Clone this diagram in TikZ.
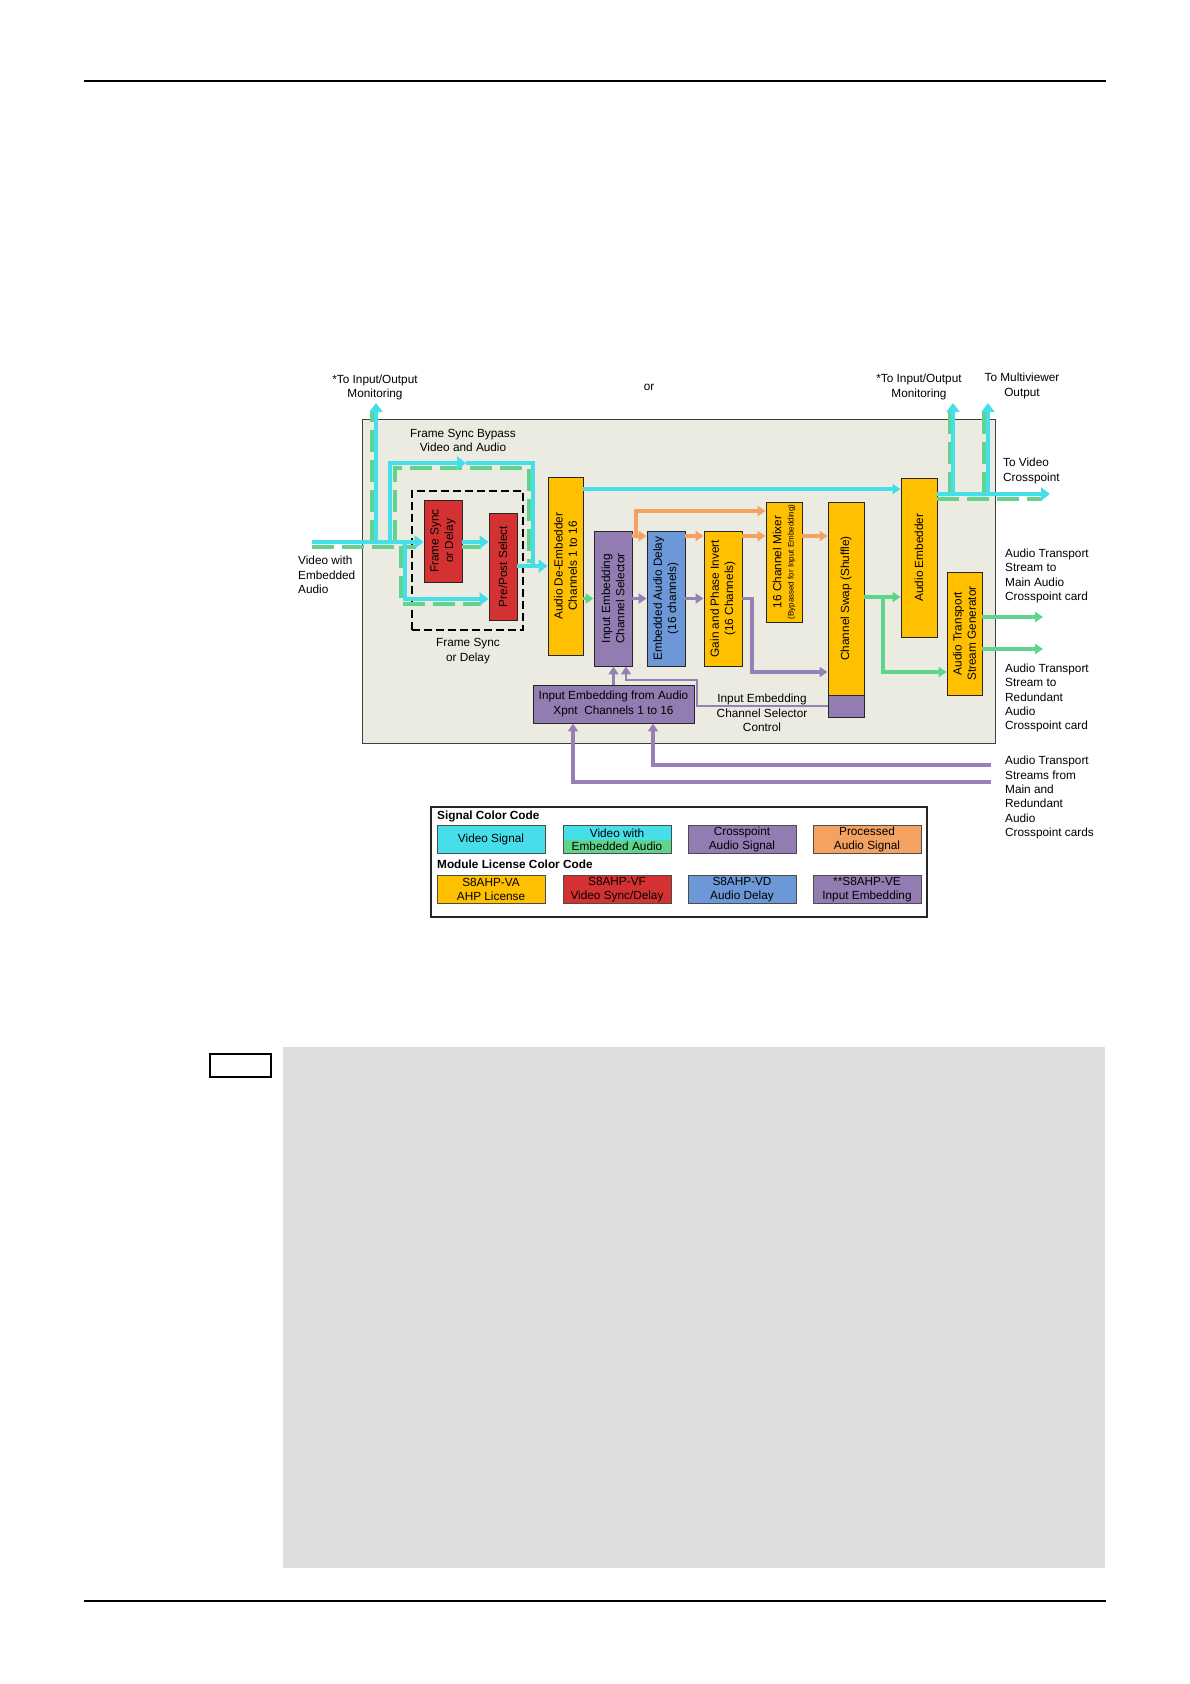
\documentclass[tikz,border=0pt]{standalone}
\usepackage{fontspec}
\setmainfont{Liberation Sans}
\usetikzlibrary{arrows.meta,calc}
\definecolor{cy}{RGB}{70,222,232}
\definecolor{gr}{RGB}{95,212,140}
\definecolor{pu}{RGB}{146,124,178}
\definecolor{pl}{RGB}{150,128,182}
\definecolor{og}{RGB}{244,162,98}
\definecolor{ye}{RGB}{255,192,0}
\definecolor{rd}{RGB}{212,50,50}
\definecolor{bl}{RGB}{108,152,216}
\definecolor{bgc}{RGB}{235,235,226}
\definecolor{pgc}{RGB}{222,222,222}
\newcommand{\dfont}{\fontsize{11.8}{14.3}\selectfont}
\newcommand{\sfnt}{\fontsize{8}{9}\selectfont}
\begin{document}
\begin{tikzpicture}[x=1pt,y=-1pt,
  bx/.style={draw=black!85, line width=0.9pt, inner sep=0pt},
  rtxt/.style={rotate=90, align=center, font=\dfont, inner sep=0pt},
  txt/.style={align=center, font=\dfont, inner sep=0pt},
  ltxt/.style={align=left, font=\dfont, inner sep=0pt, anchor=west},
  vid/.style={draw=cy, line width=4.5pt, line join=miter},
  gdash/.style={draw=gr, line width=4pt, dash pattern=on 22pt off 8pt},
  vah/.style={-{Triangle[length=9pt,width=13pt]}},
  ahd/.style={-{Triangle[length=8pt,width=10pt]}},
  aline/.style={line width=3.2pt, line join=miter},
  lbox/.style={draw=black!70, line width=0.8pt, inner sep=0pt, minimum width=108pt, minimum height=28.5pt, align=center, font=\dfont}
]
\useasboundingbox (0,0) rectangle (1190,1684);

% page furniture
\draw[line width=1.2pt] (84,81) -- (1106,81);
\draw[line width=1.2pt] (84,1601) -- (1106,1601);
\fill[pgc] (283,1047) rectangle (1105,1568);
\node[draw, line width=1.4pt, fill=white, minimum width=61pt, minimum height=23pt, inner sep=0pt] (tag) at (240.5,1065.5) {};

% main box
\node[draw=black!75, fill=bgc, line width=1pt, minimum width=633pt, minimum height=324pt, inner sep=0pt] (main) at (678.5,581) {};

% dashed frame sync group
\node[draw, dash pattern=on 8pt off 4pt, line width=1.2pt, minimum width=111pt, minimum height=139pt, inner sep=0pt] (fsd) at (467.5,560.5) {};

% blocks
\node[bx, fill=rd, minimum width=38pt, minimum height=82pt] (FS) at (443,541) {};
\node[rtxt] (FSt) at (FS) {Frame Sync\\or Delay};
\node[bx, fill=rd, minimum width=28pt, minimum height=107pt] (PP) at (503,566.5) {};
\node[rtxt] (PPt) at (PP) {Pre/Post Select};
\node[bx, fill=ye, minimum width=35pt, minimum height=178pt] (DeEmb) at (565.5,566) {};
\node[rtxt] (DeEmbt) at (DeEmb) {Audio De-Embedder\\Channels 1 to 16};
\node[bx, fill=pu, minimum width=38pt, minimum height=135pt] (Sel) at (613,598.5) {};
\node[rtxt] (Selt) at (Sel) {Input Embedding\\Channel Selector};
\node[bx, fill=bl, minimum width=38pt, minimum height=135pt] (Delay) at (666,598.5) {};
\node[rtxt] (Delayt) at (Delay) {Embedded Audio Delay\\(16 channels)};
\node[bx, fill=ye, minimum width=38pt, minimum height=135pt] (Gain) at (723,598.5) {};
\node[rtxt] (Gaint) at (Gain) {Gain and Phase Invert\\(16 Channels)};
\node[bx, fill=ye, minimum width=36pt, minimum height=120pt] (Mix) at (784,562) {};
\node[rtxt] (Mixt) at (Mix) {16 Channel Mixer\\[-2pt]{\sfnt (Bypassed for Input Embedding)}};
\node[bx, fill=ye, minimum width=36pt, minimum height=193pt] (Swap) at (846,598.5) {};
\node[rtxt] (Swapt) at (Swap) {Channel Swap (Shuffle)};
\node[bx, fill=pu, minimum width=36pt, minimum height=22pt] (SwapP) at (846,706) {};
\node[bx, fill=ye, minimum width=36pt, minimum height=159pt] (Emb) at (919,557.5) {};
\node[rtxt] (Embt) at (Emb) {Audio Embedder};
\node[bx, fill=ye, minimum width=35pt, minimum height=123pt] (ATSG) at (964.5,633.5) {};
\node[rtxt] (ATSGt) at (ATSG) {Audio Transport\\Stream Generator};
\node[bx, fill=pu, minimum width=161pt, minimum height=38pt, txt] (IEA) at (613.5,704) {Input Embedding from Audio\\Xpnt\ \ Channels 1 to 16};

% coordinates
\coordinate (vin) at (312,542);
\coordinate (monL) at (376,403);
\coordinate (byTL) at (390,463);
\coordinate (byTR) at (533,463);
\coordinate (byMid) at (466,463);
\coordinate (lowX) at (405,599);
\coordinate (monR1) at (953,403);
\coordinate (monR2) at (988,403);
\coordinate (vout) at (1050,494);
\coordinate (yV) at (0,489);
\coordinate (yO) at (0,536);
\coordinate (ob) at (636,511);
\coordinate (pc) at (752,672);
\coordinate (yG) at (0,597);
\coordinate (gb) at (883,672);
\coordinate (o1) at (1043,617);
\coordinate (o2) at (1043,649);
\coordinate (c1) at (697,680);
\coordinate (c2) at (626,680);
\coordinate (r1) at (991,765);
\coordinate (r2) at (991,782);
\coordinate (b1) at (653,765);
\coordinate (b2) at (573,782);

% green dashes of video with embedded audio (under cyan)
\draw[gdash] (312,546.5) -- (416,546.5);
\draw[gdash] (371.5,542) -- (371.5,411);
\draw[gdash] (394.5,542) -- (394.5,467.5) -- (528.5,467.5) -- (528.5,563);
\draw[gdash] (400.5,546) -- (400.5,603.5) -- (481,603.5);
\draw[gdash] (462,546.5) -- (481,546.5);
\draw[gdash] (937,498.5) -- (1042,498.5);
\draw[gdash] (949.5,494) -- (949.5,411);
\draw[gdash] (984,494) -- (984,411);

% cyan video paths
\draw[vid,vah] (vin) -- (vin -| FS.west);
\draw[vid,vah] (vin -| monL) -- (monL);
\draw[vid,vah] (vin -| byTL) -- (byTL) -- (byMid);
\draw[vid,vah] (byMid) -- (byTR) -- (byTR |- DeEmb.west) -- (DeEmb.west);
\draw[vid,vah] (vin -| lowX) -- (lowX) -- (lowX -| PP.west);
\draw[vid,vah] (vin -| FS.east) -- (vin -| PP.west);
\draw[vid] (PP.east |- DeEmb.west) -- (byTR |- DeEmb.west);
\draw[vid,vah] (Emb.east |- vout) -- (vout);
\draw[vid,vah] (monR1 |- vout) -- (monR1);
\draw[vid,vah] (monR2 |- vout) -- (monR2);

% cyan video from de-embedder to embedder
\draw[aline,draw=cy,ahd] (DeEmb.east |- yV) -- (Emb.west |- yV);

% green audio
\draw[aline,draw=gr,ahd] (DeEmb.east |- Sel.west) -- (Sel.west);
\draw[aline,draw=gr,ahd] (Swap.east |- yG) -- (Emb.west |- yG);
\draw[aline,draw=gr,ahd] (gb |- yG) -- (gb) -- (gb -| ATSG.west);
\draw[aline,draw=gr,ahd] (ATSG.east |- o1) -- (o1);
\draw[aline,draw=gr,ahd] (ATSG.east |- o2) -- (o2);

% orange processed audio
\draw[aline,draw=og,ahd] (Sel.east |- yO) -- (Delay.west |- yO);
\draw[aline,draw=og,ahd] (ob |- yO) -- (ob) -- (ob -| Mix.west);
\draw[aline,draw=og,ahd] (Delay.east |- yO) -- (Gain.west |- yO);
\draw[aline,draw=og,ahd] (Gain.east |- yO) -- (Mix.west |- yO);
\draw[aline,draw=og,ahd] (Mix.east |- yO) -- (Swap.west |- yO);

% purple crosspoint audio
\draw[aline,draw=pl,ahd] (Sel.east) -- (Delay.west);
\draw[aline,draw=pl,ahd] (Delay.east) -- (Gain.west);
\draw[aline,draw=pl,ahd] (Gain.east) -- (Gain.east -| pc) -- (pc) -- (pc -| Swap.west);
\draw[aline,draw=pl,ahd] (IEA.north) -- (IEA.north |- Sel.south);
\draw[aline,draw=pl,line width=2.6pt,ahd] (SwapP.west) -- (SwapP.west -| c1) -- (c1) -- (c2) -- (c2 |- Sel.south);
\draw[aline,draw=pl,ahd] (r1) -- (b1) -- (b1 |- IEA.south);
\draw[aline,draw=pl,ahd] (r2) -- (b2) -- (b2 |- IEA.south);

% labels
\node[txt] (l1) at (375,387.5) {*To Input/Output\\Monitoring};
\node[txt] (l2) at (649,387) {or};
\node[txt] (l3) at (919,387) {*To Input/Output\\Monitoring};
\node[txt] (l4) at (1022,386) {To Multiviewer\\Output};
\node[txt] (l5) at (463,440.5) {Frame Sync Bypass\\Video and Audio};
\node[ltxt] (l6) at (1003,471) {To Video\\Crosspoint};
\node[ltxt] (l7) at (298,575) {Video with\\Embedded\\Audio};
\node[txt] (l8) at (468,651) {Frame Sync\\or Delay};
\node[txt] (l9) at (762,713) {Input Embedding\\Channel Selector\\Control};
\node[ltxt] (l10) at (1005,576) {Audio Transport\\Stream to\\Main Audio\\Crosspoint card};
\node[ltxt] (l11) at (1005,698) {Audio Transport\\Stream to\\Redundant\\Audio\\Crosspoint card};
\node[ltxt] (l12) at (1005,797.5) {Audio Transport\\Streams from\\Main and\\Redundant\\Audio\\Crosspoint cards};

% legend
\node[draw=black!85, line width=1.2pt, fill=white, minimum width=496pt, minimum height=110pt, inner sep=0pt] (leg) at (679,862) {};
\node[anchor=west, font=\bfseries\dfont, inner sep=0pt] (lh1) at (437,816) {Signal Color Code};
\node[lbox, fill=cy] (k1) at (491,839.5) {Video Signal};
\node[lbox, path picture={
  \fill[cy] (path picture bounding box.north west) rectangle (path picture bounding box.east);
  \fill[gr] (path picture bounding box.west) rectangle (path picture bounding box.south east);}] (k2) at (617,839.5) {Video with\\[-1pt]Embedded Audio};
\node[lbox, fill=pu] (k3) at (742,839.5) {Crosspoint\\[-1pt]Audio Signal};
\node[lbox, fill=og] (k4) at (867,839.5) {Processed\\[-1pt]Audio Signal};
\node[anchor=west, font=\bfseries\dfont, inner sep=0pt] (lh2) at (437,864) {Module License Color Code};
\node[lbox, fill=ye] (m1) at (491,889.5) {S8AHP-VA\\[-1pt]AHP License};
\node[lbox, fill=rd] (m2) at (617,889.5) {S8AHP-VF\\[-1pt]Video Sync/Delay};
\node[lbox, fill=bl] (m3) at (742,889.5) {S8AHP-VD\\[-1pt]Audio Delay};
\node[lbox, fill=pu] (m4) at (867,889.5) {**S8AHP-VE\\[-1pt]Input Embedding};
\end{tikzpicture}
\end{document}
